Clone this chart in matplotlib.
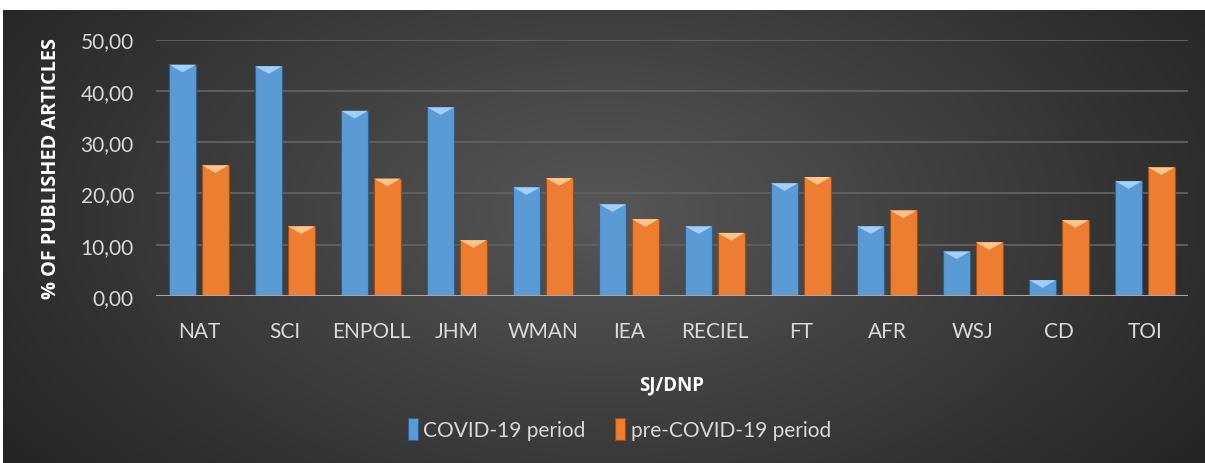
import numpy as np
import matplotlib.pyplot as plt
from matplotlib.patches import Polygon

journals = ["NAT", "SCI", "ENPOLL", "JHM", "WMAN", "IEA", "RECIEL", "FT", "AFR", "WSJ", "CD", "TOI"]
covid = [45.1, 44.8, 36.1, 36.8, 21.2, 17.9, 13.6, 22.0, 13.6, 8.7, 3.1, 22.4]
pre_covid = [25.5, 13.6, 22.9, 10.9, 23.0, 15.0, 12.3, 23.2, 16.7, 10.5, 14.8, 25.1]

W, H = 1205, 464
fig = plt.figure(figsize=(W / 100, H / 100), dpi=100)
fig.patch.set_facecolor("white")

# dark radial gradient background (chart area starts below a thin white strip)
bg = fig.add_axes([3 / W, 0, 1 - 3 / W, 1 - 11 / H])
yy, xx = np.mgrid[0:1:200j, 0:1:400j]
r = np.sqrt(((xx - 0.5) / 0.62) ** 2 + ((yy - 0.45) / 0.95) ** 2)
shade = np.clip(0.34 - 0.2 * r, 0.14, 0.34)
bg.imshow(np.dstack([shade] * 3), aspect="auto", extent=[0, 1, 0, 1])
bg.set_axis_off()

ax = fig.add_axes([156 / W, 1 - 297 / H, (1188 - 156) / W, (297 - 40.5) / H])
ax.patch.set_alpha(0)
x = np.arange(len(journals))
bw = 0.315
off = 0.19
blue, orange = "#5b9bd5", "#ed7d31"
b1 = ax.bar(x - off, covid, bw, color=blue, edgecolor="#2f5f8f", linewidth=0.8, zorder=3)
b2 = ax.bar(x + off, pre_covid, bw, color=orange, edgecolor="#a04d14", linewidth=0.8, zorder=3)

# bevel highlight on bar tops
for bars, hl in ((b1, "#9fd0ff"), (b2, "#ffc58a")):
    for b in bars:
        x0, w, h = b.get_x(), b.get_width(), b.get_height()
        t = 1.5
        ax.add_patch(Polygon([(x0, h), (x0 + w, h), (x0 + w / 2, h - t)],
                             closed=True, color=hl, zorder=4, lw=0))

ax.set_ylim(0, 50)
ax.set_xlim(-0.5, len(journals) - 0.5)
ax.set_yticks(np.arange(0, 51, 10))
ax.set_yticklabels([f"{v},00" for v in range(0, 51, 10)])
ax.set_xticks(x)
ax.set_xticklabels(journals)
ax.grid(axis="y", color="#5e5e5e", linewidth=1.5, zorder=0)
for s in ax.spines.values():
    s.set_visible(False)
ax.axhline(0, color="#a6a6a6", linewidth=2.2, zorder=5)
ax.tick_params(length=0, colors="#d9d9d9", labelsize=15)
ax.tick_params(axis="y", pad=16)
ax.tick_params(axis="x", pad=18)
for lab in ax.get_xticklabels() + ax.get_yticklabels():
    lab.set_fontfamily("Lato")

ax.set_xlabel("SJ/DNP", color="white", fontsize=13.5, fontweight="bold",
              fontfamily="Open Sans", labelpad=24)
ax.set_ylabel("% OF PUBLISHED ARTICLES", color="white", fontsize=14.3,
              fontweight="bold", fontfamily="Open Sans", labelpad=14)

leg = fig.legend([b1, b2], ["COVID-19 period", "pre-COVID-19 period"],
                 loc="center", bbox_to_anchor=(0.514, 1 - 430 / H), ncol=2,
                 frameon=False, handlelength=0.5, handleheight=1.2,
                 handletextpad=0.25, columnspacing=1.4,
                 prop={"family": "Lato", "size": 15})
for t in leg.get_texts():
    t.set_color("#d9d9d9")

fig.savefig("out.png", dpi=100)
